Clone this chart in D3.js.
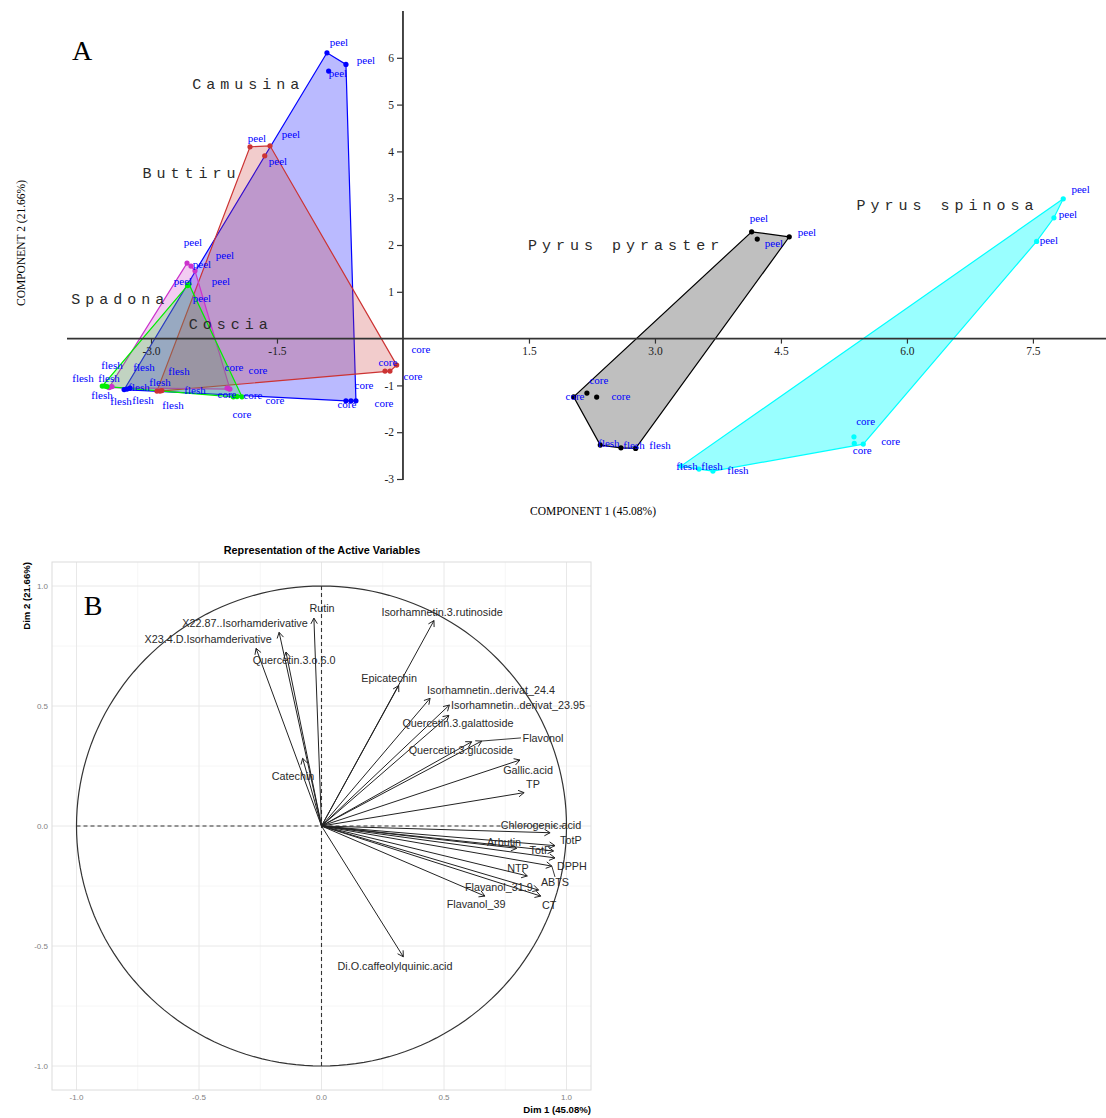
<!DOCTYPE html>
<html><head><meta charset="utf-8">
<script src="https://cdn.jsdelivr.net/npm/d3@7"></script>
<style>body{margin:0;background:#fff}svg{display:block}</style>
</head><body>
<svg id="c" width="1106" height="1118"></svg>
<script>
// ---------------- Panel A data ----------------
const groups = ["Camusina","Buttiru","Spadona","Coscia","Pyrus pyraster","Pyrus spinosa"];
const tissues = ["peel","core","flesh"];
// [group, tissue, component1, component2]
const scores = [
 ["Camusina","peel",-0.905,6.107],["Camusina","peel",-0.679,5.859],["Camusina","peel",-0.885,5.716],
 ["Camusina","core",-0.679,-1.329],["Camusina","core",-0.619,-1.329],["Camusina","core",-0.560,-1.329],
 ["Camusina","flesh",-3.286,-1.079],["Camusina","flesh",-3.25,-1.058],["Camusina","flesh",-3.32,-1.09],
 ["Buttiru","peel",-1.821,4.098],["Buttiru","peel",-1.583,4.12],["Buttiru","peel",-1.646,3.906],
 ["Buttiru","core",-0.214,-0.694],["Buttiru","core",-0.155,-0.694],["Buttiru","core",-0.075,-0.566],
 ["Buttiru","flesh",-2.929,-1.122],["Buttiru","flesh",-2.893,-1.122],["Buttiru","flesh",-2.87,-1.111],
 ["Spadona","peel",-2.571,1.613],["Spadona","peel",-2.476,1.449],["Spadona","peel",-2.524,1.549],
 ["Spadona","core",-2.071,-1.073],["Spadona","core",-2.095,-1.058],["Spadona","core",-2.06,-1.079],
 ["Spadona","flesh",-3.488,-1.036],["Spadona","flesh",-3.464,-1.026],["Spadona","flesh",-3.5,-1.047],
 ["Coscia","peel",-2.556,1.143],["Coscia","peel",-2.548,1.164],["Coscia","peel",-2.565,1.132],
 ["Coscia","core",-2.02,-1.244],["Coscia","core",-1.917,-1.244],["Coscia","core",-1.976,-1.239],
 ["Coscia","flesh",-3.58,-1.015],["Coscia","flesh",-3.548,-1.015],["Coscia","flesh",-3.524,-1.026],
 ["Pyrus pyraster","peel",4.151,2.282],["Pyrus pyraster","peel",4.599,2.175],["Pyrus pyraster","peel",4.218,2.126],
 ["Pyrus pyraster","core",2.032,-1.244],["Pyrus pyraster","core",2.19,-1.165],["Pyrus pyraster","core",2.306,-1.25],
 ["Pyrus pyraster","flesh",2.349,-2.276],["Pyrus pyraster","flesh",2.595,-2.333],["Pyrus pyraster","flesh",2.77,-2.346],
 ["Pyrus spinosa","peel",7.861,2.987],["Pyrus spinosa","peel",7.75,2.581],["Pyrus spinosa","peel",7.544,2.077],
 ["Pyrus spinosa","core",5.369,-2.098],["Pyrus spinosa","core",5.373,-2.239],["Pyrus spinosa","core",5.48,-2.254],
 ["Pyrus spinosa","flesh",3.31,-2.724],["Pyrus spinosa","flesh",3.524,-2.788],["Pyrus spinosa","flesh",3.69,-2.831]
];
// sample labels as drawn (text, component1, component2)
const sampleLabels = [
 ["peel",-0.762,6.335],["peel",-0.440,5.951],["peel",-0.774,5.673],
 ["peel",-1.738,4.284],["peel",-1.333,4.370],["peel",-1.488,3.793],
 ["peel",-2.5,2.062],["peel",-2.393,1.592],["peel",-2.119,1.784],
 ["peel",-2.619,1.229],["peel",-2.167,1.229],["peel",-2.393,0.865],
 ["peel",4.238,2.575],["peel",4.810,2.276],["peel",4.417,2.041],
 ["peel",8.068,3.194],["peel",7.917,2.660],["peel",7.690,2.104],
 ["core",0.214,-0.224],["core",0.119,-0.801],["core",-0.179,-0.502],
 ["core",-0.226,-1.378],["core",-0.464,-0.994],["core",-0.667,-1.400],
 ["core",-2.012,-0.609],["core",-1.726,-0.673],["core",-2.095,-1.186],
 ["core",-1.786,-1.207],["core",-1.524,-1.314],["core",-1.917,-1.613],
 ["core",2.333,-0.887],["core",2.048,-1.229],["core",2.595,-1.229],
 ["core",5.508,-1.756],["core",5.806,-2.190],["core",5.468,-2.382],
 ["flesh",-3.464,-0.565],["flesh",-3.083,-0.600],["flesh",-3.810,-0.835],
 ["flesh",-3.5,-0.835],["flesh",-2.667,-0.694],["flesh",-3.143,-1.036],
 ["flesh",-2.893,-0.929],["flesh",-3.583,-1.207],["flesh",-3.357,-1.335],
 ["flesh",-3.095,-1.314],["flesh",-2.476,-1.109],["flesh",-2.738,-1.421],
 ["flesh",2.452,-2.233],["flesh",2.75,-2.276],["flesh",3.060,-2.276],
 ["flesh",3.381,-2.724],["flesh",3.679,-2.724],["flesh",3.988,-2.810]
];
// group name labels (text anchor start): name, component1, component2
const groupLabels = [
 ["Camusina",-2.51,5.45],["Buttiru",-3.1,3.55],["Spadona",-3.95,0.85],
 ["Coscia",-2.55,0.32],["Pyrus pyraster",1.49,2.0],["Pyrus spinosa",5.4,2.87]
];
const xTicksA = [-3.0,-1.5,1.5,3.0,4.5,6.0,7.5];
const yTicksA = [-3,-2,-1,1,2,3,4,5,6];

// ---------------- Panel B data ----------------
const variables = ["Rutin","X22.87..Isorhamderivative","X23.4.D.Isorhamderivative","Quercetin.3.o.6.0","Catechin",
 "Isorhamnetin.3.rutinoside","Epicatechin","Isorhamnetin..derivat_24.4","Isorhamnetin..derivat_23.95",
 "Quercetin.3.galattoside","Quercetin.3.glucoside","Flavonol","Gallic.acid","TP","Chlorogenic.acid","TotP",
 "Arbutin","TotF","DPPH","NTP","ABTS","Flavanol_31.9","CT","Flavanol_39","Di.O.caffeolylquinic.acid"];
const dim1 = [-0.031,-0.173,-0.267,-0.145,-0.077,0.459,0.315,0.443,0.522,0.520,0.613,0.654,0.81,0.827,0.933,0.953,0.797,0.947,0.953,0.84,0.94,0.886,0.895,0.667,0.334];
const dim2 = [0.866,0.807,0.740,0.725,0.282,0.856,0.585,0.532,0.504,0.461,0.351,0.354,0.275,0.139,-0.028,-0.082,-0.093,-0.104,-0.133,-0.208,-0.167,-0.267,-0.292,-0.292,-0.545];
// label positions (dim1, dim2)
const labX = [0.002,-0.312,-0.463,-0.112,-0.116,0.492,0.276,0.692,0.802,0.557,0.569,0.904,0.843,0.863,0.896,1.018,0.745,0.892,1.022,0.802,0.953,0.724,0.929,0.631,0.3];
const labY = [0.908,0.846,0.779,0.692,0.208,0.892,0.617,0.567,0.504,0.429,0.317,0.367,0.233,0.175,0.004,-0.058,-0.067,-0.1,-0.167,-0.175,-0.233,-0.254,-0.329,-0.325,-0.583];
const repelSegments = ["Flavonol","ABTS"];
const ticksB = [-1.0,-0.5,0.0,0.5,1.0];
const minorB = [-0.75,-0.25,0.25,0.75];

// ---------------- styles ----------------
const colors = {"Camusina":"#0000ff","Buttiru":"#cc3333","Spadona":"#cc33cc","Coscia":"#00ee00","Pyrus pyraster":"#000000","Pyrus spinosa":"#00ffff"};
const fillOp = {"Camusina":0.27,"Buttiru":0.25,"Spadona":0.25,"Coscia":0.2,"Pyrus pyraster":0.25,"Pyrus spinosa":0.4};
const drawOrder = ["Camusina","Buttiru","Spadona","Coscia","Pyrus pyraster","Pyrus spinosa"];
const hy = s => String(s).replace("\u2212","-");

const svg = d3.select("#c");

// ================= Panel A =================
const xA = d3.scaleLinear().domain([-4,8.37]).range([67,1106]);
const yA = d3.scaleLinear().domain([-3,7]).range([479,11]);
const gA = svg.append("g");

drawOrder.forEach(g=>{
  const pts = scores.filter(d=>d[0]===g).map(d=>[xA(d[2]),yA(d[3])]);
  const hull = d3.polygonHull(pts);
  gA.append("path").attr("d","M"+hull.join("L")+"Z")
    .attr("fill",colors[g]).attr("fill-opacity",fillOp[g])
    .attr("stroke",colors[g]).attr("stroke-width",1.2);
});
drawOrder.forEach(g=>{
  gA.selectAll(null).data(scores.filter(d=>d[0]===g)).enter().append("circle")
    .attr("cx",d=>xA(d[2])).attr("cy",d=>yA(d[3])).attr("r",2.6).attr("fill",colors[g]);
});

// axes
const xAxisA = d3.axisBottom(xA).tickValues(xTicksA).tickFormat(d=>hy(d3.format(".1f")(d))).tickSize(5);
const yAxisA = d3.axisLeft(yA).tickValues(yTicksA).tickFormat(d=>hy(d3.format("d")(d))).tickSize(6);
const gx = gA.append("g").attr("transform",`translate(0,${yA(0)})`).call(xAxisA);
const gy = gA.append("g").attr("transform",`translate(${xA(0)},0)`).call(yAxisA);
[gx,gy].forEach(a=>{
  a.select(".domain").attr("stroke","#333").attr("stroke-width",1.8);
  a.selectAll(".tick line").attr("stroke","#333").attr("stroke-width",1.2);
  a.selectAll("text").attr("font-family","Liberation Serif, serif").attr("font-size",11.5).attr("fill","#222");
});
gx.select(".domain").attr("d",`M67,0H1106`);
gy.select(".domain").attr("d",`M0,11V480`);

gA.selectAll(null).data(sampleLabels).enter().append("text")
  .attr("x",d=>xA(d[1])).attr("y",d=>yA(d[2])).attr("text-anchor","middle").attr("dy","0.35em")
  .attr("font-family","Liberation Serif, serif").attr("font-size",11).attr("fill","#0000ff").text(d=>d[0]);

gA.selectAll(null).data(groupLabels).enter().append("text")
  .attr("x",d=>xA(d[1])).attr("y",d=>yA(d[2])).attr("dy","0.35em")
  .attr("font-family","Liberation Mono, monospace").attr("font-size",15).attr("letter-spacing",5.0)
  .attr("fill","#2a2a2a").text(d=>d[0]);

gA.append("text").attr("x",82).attr("y",60).attr("text-anchor","middle")
  .attr("font-family","Liberation Serif, serif").attr("font-size",28).text("A");
gA.append("text").attr("x",593).attr("y",515).attr("text-anchor","middle")
  .attr("font-family","Liberation Serif, serif").attr("font-size",11.5).text("COMPONENT 1 (45.08%)");
gA.append("text").attr("transform","translate(25,243) rotate(-90)").attr("text-anchor","middle")
  .attr("font-family","Liberation Serif, serif").attr("font-size",11.5).text("COMPONENT 2 (21.66%)");

// ================= Panel B =================
const xB = d3.scaleLinear().domain([-1.1,1.1]).range([52,591]);
const yB = d3.scaleLinear().domain([-1.1,1.1]).range([1090,562]);
const gB = svg.append("g");
gB.selectAll(null).data(minorB).enter().append("line")
  .attr("x1",d=>xB(d)).attr("x2",d=>xB(d)).attr("y1",562).attr("y2",1090).attr("stroke","#f4f4f4").attr("stroke-width",0.8);
gB.selectAll(null).data(minorB).enter().append("line")
  .attr("y1",d=>yB(d)).attr("y2",d=>yB(d)).attr("x1",52).attr("x2",591).attr("stroke","#f4f4f4").attr("stroke-width",0.8);
gB.selectAll(null).data(ticksB).enter().append("line")
  .attr("x1",d=>xB(d)).attr("x2",d=>xB(d)).attr("y1",562).attr("y2",1090).attr("stroke","#e8e8e8").attr("stroke-width",1);
gB.selectAll(null).data(ticksB).enter().append("line")
  .attr("y1",d=>yB(d)).attr("y2",d=>yB(d)).attr("x1",52).attr("x2",591).attr("stroke","#e8e8e8").attr("stroke-width",1);
gB.append("rect").attr("x",52).attr("y",562).attr("width",539).attr("height",528).attr("fill","none").attr("stroke","#dcdcdc");

// circle
const circ = d3.range(0,361,2).map(a=>[xB(Math.cos(a*Math.PI/180)),yB(Math.sin(a*Math.PI/180))]);
gB.append("path").attr("d",d3.line()(circ)).attr("fill","none").attr("stroke","#333").attr("stroke-width",1.2);
gB.append("line").attr("x1",xB(-1)).attr("x2",xB(1)).attr("y1",yB(0)).attr("y2",yB(0)).attr("stroke","#333").attr("stroke-dasharray","4,3").attr("stroke-width",1.1);
gB.append("line").attr("x1",xB(0)).attr("x2",xB(0)).attr("y1",yB(-1)).attr("y2",yB(1)).attr("stroke","#333").attr("stroke-dasharray","4,3").attr("stroke-width",1.1);

// arrows
variables.forEach((v,i)=>{
  const x0=xB(0),y0=yB(0),x1=xB(dim1[i]),y1=yB(dim2[i]);
  const ang=Math.atan2(y1-y0,x1-x0), L=6.5, A=Math.PI/6;
  gB.append("line").attr("x1",x0).attr("y1",y0).attr("x2",x1).attr("y2",y1).attr("stroke","#222").attr("stroke-width",1);
  gB.append("path").attr("d",`M${x1-L*Math.cos(ang-A)},${y1-L*Math.sin(ang-A)}L${x1},${y1}L${x1-L*Math.cos(ang+A)},${y1-L*Math.sin(ang+A)}`)
    .attr("fill","none").attr("stroke","#222").attr("stroke-width",1);
  if(repelSegments.includes(v)){
    gB.append("line").attr("x1",x1).attr("y1",y1).attr("x2",xB(labX[i])-(v==="Flavonol"?22:0)).attr("y2",yB(labY[i])+(v==="ABTS"?-5:0))
      .attr("stroke","#222").attr("stroke-width",0.9);
  }
  gB.append("text").attr("x",xB(labX[i])).attr("y",yB(labY[i])).attr("dy","0.35em").attr("text-anchor","middle")
    .attr("font-family","Liberation Sans, Arial, sans-serif").attr("font-size",10.8).attr("fill","#2a2a2a").text(v);
});

// tick labels
gB.selectAll(null).data(ticksB).enter().append("text").attr("x",d=>xB(d)).attr("y",1100).attr("text-anchor","middle")
  .attr("font-family","Liberation Sans, Arial, sans-serif").attr("font-size",8).attr("fill","#7f7f7f").text(d=>hy(d3.format(".1f")(d)));
gB.selectAll(null).data(ticksB).enter().append("text").attr("x",48).attr("y",d=>yB(d)).attr("dy","0.35em").attr("text-anchor","end")
  .attr("font-family","Liberation Sans, Arial, sans-serif").attr("font-size",8).attr("fill","#7f7f7f").text(d=>hy(d3.format(".1f")(d)));
gB.append("text").attr("x",591).attr("y",1113).attr("text-anchor","end")
  .attr("font-family","Liberation Sans, Arial, sans-serif").attr("font-size",9.6).attr("font-weight","bold").text("Dim 1 (45.08%)");
gB.append("text").attr("transform","translate(30,562) rotate(-90)").attr("text-anchor","end")
  .attr("font-family","Liberation Sans, Arial, sans-serif").attr("font-size",9.6).attr("font-weight","bold").text("Dim 2 (21.66%)");
gB.append("text").attr("x",322).attr("y",554).attr("text-anchor","middle")
  .attr("font-family","Liberation Sans, Arial, sans-serif").attr("font-size",10.8).attr("font-weight","bold").text("Representation of the Active Variables");
gB.append("text").attr("x",93).attr("y",615).attr("text-anchor","middle")
  .attr("font-family","Liberation Serif, serif").attr("font-size",28).text("B");
</script>
</body></html>
